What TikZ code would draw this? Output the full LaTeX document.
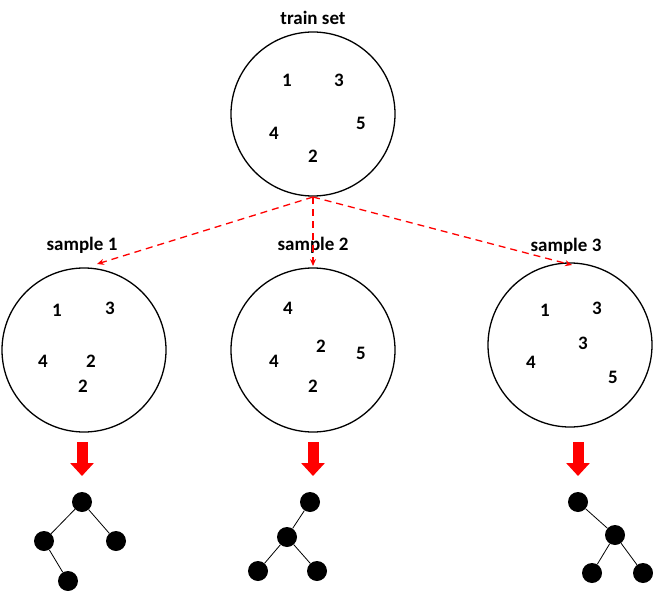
\documentclass[tikz,border=0pt]{standalone}
\usepackage{fontspec}
\setmainfont{Carlito}
\usetikzlibrary{arrows.meta}
\begin{document}
\begin{tikzpicture}[x=1pt,y=-1pt,
  txt/.style={font=\bfseries\fontsize{19}{22}\selectfont, inner sep=0pt},
  setcircle/.style={circle, draw=black, line width=1.3pt, minimum size=164pt, inner sep=0pt},
  sampleedge/.style={red, dashed, dash pattern=on 7pt off 5pt, line width=1.3pt, -{Stealth[length=7pt,width=6pt]}},
  bigarrow/.style={red, line width=11pt, -{Triangle[length=13pt,width=23pt]}},
  treenode/.style={circle, fill=black, minimum size=20pt, inner sep=0pt},
  treeedge/.style={black, line width=0.8pt}]
\useasboundingbox (0,0) rectangle (653,591);
% top
\node[setcircle] (T) at (313,114) {};
\node[txt] (tl) at (313,18) {train set};
\node[txt] (t1) at (287,80) {1};
\node[txt] (t3) at (339,80) {3};
\node[txt] (t5) at (361,123) {5};
\node[txt] (t4) at (274,133) {4};
\node[txt] (t2) at (313,156) {2};
% sample 1
\node[setcircle] (S1) at (84,350) {};
\node[txt] (s1l) at (82,245) {sample 1};
\node[txt] (a1) at (57,310) {1};
\node[txt] (a3) at (110,308) {3};
\node[txt] (a4) at (43,361) {4};
\node[txt] (a2) at (91,361) {2};
\node[txt] (a2b) at (83,386) {2};
% sample 2
\node[setcircle] (S2) at (313,350) {};
\node[txt] (s2l) at (313,245) {sample 2};
\node[txt] (b4) at (288,308) {4};
\node[txt] (b2) at (321,346) {2};
\node[txt] (b5) at (361,353) {5};
\node[txt] (b4b) at (274,361) {4};
\node[txt] (b2b) at (313,386) {2};
% sample 3
\node[setcircle] (S3) at (570,345) {};
\node[txt] (s3l) at (566,246) {sample 3};
\node[txt] (c1) at (545,310) {1};
\node[txt] (c3) at (597,308) {3};
\node[txt] (c3b) at (583,343) {3};
\node[txt] (c4) at (531,362) {4};
\node[txt] (c5) at (613,377) {5};
% dashed arrows
\coordinate (src) at (313,197);
\coordinate (e1) at (97,264);
\coordinate (e2) at (313,266);
\coordinate (e3) at (572,265);
\draw[sampleedge] (src) -- (e1);
\draw[sampleedge] (src) -- (e2);
\draw[sampleedge] (src) -- (e3);
% big arrows
\coordinate (g1a) at (82,442); \coordinate (g1b) at (82,476);
\coordinate (g2a) at (313,442); \coordinate (g2b) at (313,476);
\coordinate (g3a) at (578,442); \coordinate (g3b) at (578,476);
\draw[bigarrow] (g1a) -- (g1b);
\draw[bigarrow] (g2a) -- (g2b);
\draw[bigarrow] (g3a) -- (g3b);
% tree 1
\node[treenode] (r1) at (82,502) {};
\node[treenode] (r1l) at (44,541) {};
\node[treenode] (r1r) at (116,541) {};
\node[treenode] (r1ll) at (68,581) {};
\draw[treeedge] (r1) -- (r1l) (r1) -- (r1r) (r1l) -- (r1ll);
% tree 2
\node[treenode] (r2) at (310,502) {};
\node[treenode] (r2m) at (287,537) {};
\node[treenode] (r2a) at (258,571) {};
\node[treenode] (r2b) at (317,571) {};
\draw[treeedge] (r2) -- (r2m) (r2m) -- (r2a) (r2m) -- (r2b);
% tree 3
\node[treenode] (r3) at (578,502) {};
\node[treenode] (r3m) at (615,535) {};
\node[treenode] (r3a) at (592,573) {};
\node[treenode] (r3b) at (643,573) {};
\draw[treeedge] (r3) -- (r3m) (r3m) -- (r3a) (r3m) -- (r3b);
\end{tikzpicture}
\end{document}
